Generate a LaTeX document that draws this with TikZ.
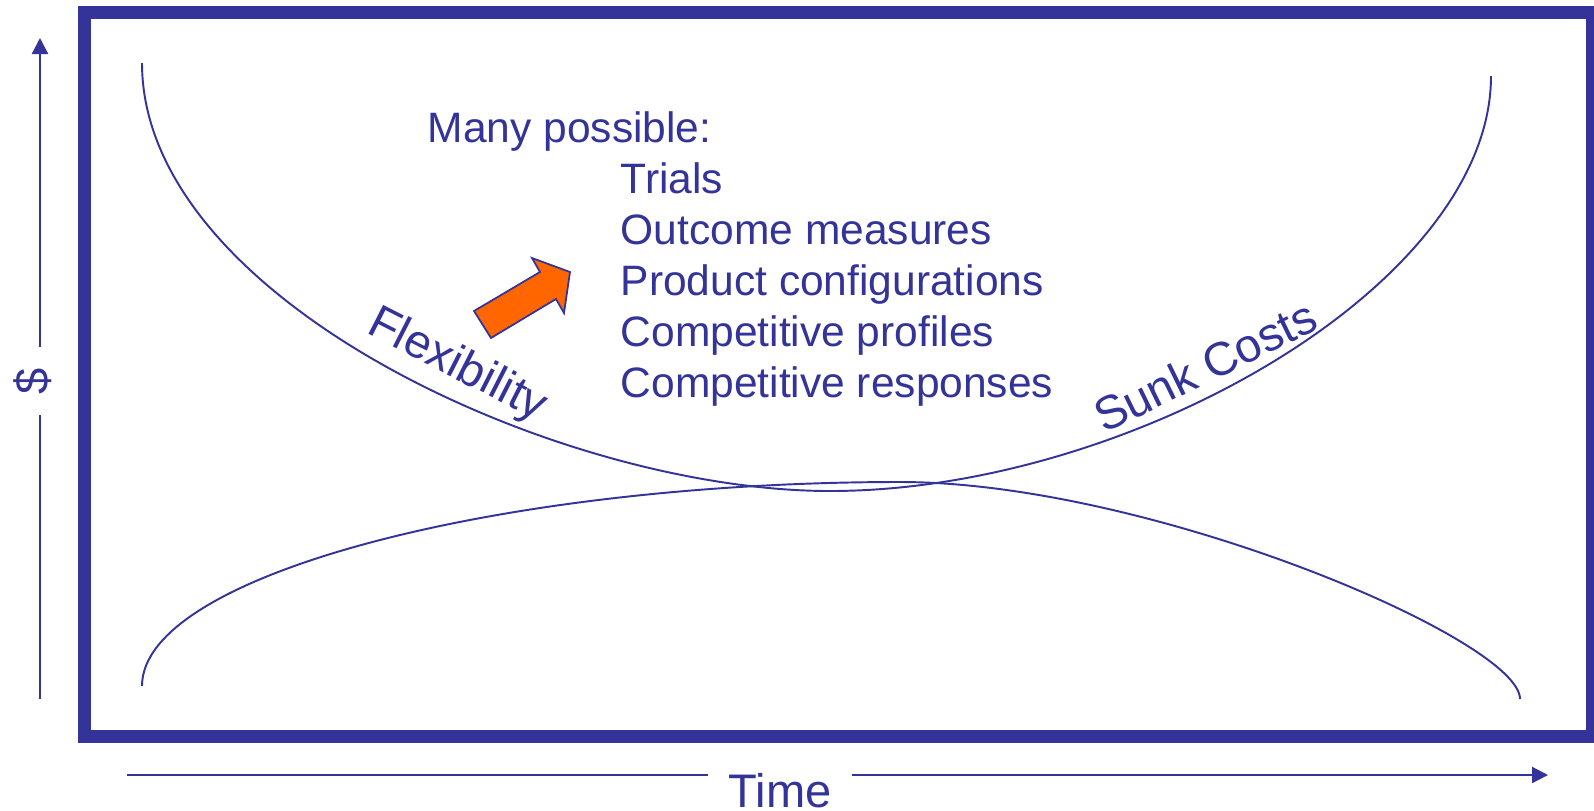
\documentclass[tikz,border=0pt]{standalone}
\usepackage{fontspec}
\setmainfont{Liberation Sans}
\usetikzlibrary{arrows.meta}
\definecolor{chartblue}{RGB}{51,51,153}
\definecolor{chartorange}{RGB}{255,102,0}

\begin{document}
\begin{tikzpicture}[
    curve/.style={chartblue, line width=0.55pt},
    axis/.style={chartblue, line width=0.6pt},
    axislabel/.style={text=chartblue, font=\fontsize{13.4}{16}\selectfont, inner sep=0pt, inner xsep=0.2cm},
    item/.style={text=chartblue, font=\fontsize{12.1}{14.5}\selectfont, anchor=base west, inner sep=0pt},
    tag/.style={text=chartblue, font=\fontsize{13.4}{16}\selectfont, inner sep=0pt}
]
    \useasboundingbox (0,0) rectangle (15.94,8.10);

    % Outer frame
    \draw[chartblue, line width=0.13cm] (0.84,0.735) rectangle (15.92,7.975);

    % Axes: $ upwards, Time to the right
    \coordinate (ybot) at (0.40,1.11);
    \coordinate (ytop) at (0.40,7.72);
    \node[axislabel, rotate=90] (dollar) at (0.33,4.29) {\$};
    \draw[axis] (ybot) -- (ybot |- dollar.west);
    \draw[axis, -{Triangle[length=0.16cm, width=0.16cm]}] (ybot |- dollar.east) -- (ytop);

    \coordinate (xleft) at (1.27,0.35);
    \coordinate (xright) at (15.48,0.35);
    \node[axislabel, anchor=base] (time) at (7.80,0.03) {Time};
    \draw[axis] (xleft) -- (time.west |- xleft);
    \draw[axis, -{Triangle[length=0.16cm, width=0.16cm]}] (time.east |- xleft) -- (xright);

    % Flexibility / sunk costs curves
    \draw[curve] (1.42,7.47) .. controls (1.42,5.10) and (5.60,3.19) .. (8.30,3.19)
                 .. controls (11.30,3.19) and (14.91,5.25) .. (14.91,7.34);
    \draw[curve] (1.42,1.24) .. controls (1.42,2.35) and (5.00,3.28) .. (9.00,3.28)
                 .. controls (11.50,3.28) and (15.20,1.70) .. (15.20,1.11);

    \node[tag, rotate=-27] (flex) at (4.57,4.44) {Flexibility};
    \node[tag, rotate=26] (sunk) at (12.05,4.44) {Sunk Costs};

    % Orange block arrow
    \filldraw[fill=chartorange, draw=chartblue, line width=0.5pt, line join=miter]
        (4.74,4.99) -- (5.40,5.38) -- (5.32,5.52) -- (5.70,5.38)
        -- (5.64,4.97) -- (5.56,5.11) -- (4.91,4.72) -- cycle;

    % List of options
    \node[item] (many) at (4.27,6.68) {Many possible:};
    \node[item] (trials) at (6.20,6.17) {Trials};
    \node[item] (outcome) at (6.20,5.66) {Outcome measures};
    \node[item] (product) at (6.20,5.15) {Product configurations};
    \node[item] (profiles) at (6.20,4.64) {Competitive profiles};
    \node[item] (responses) at (6.20,4.13) {Competitive responses};
\end{tikzpicture}
\end{document}
